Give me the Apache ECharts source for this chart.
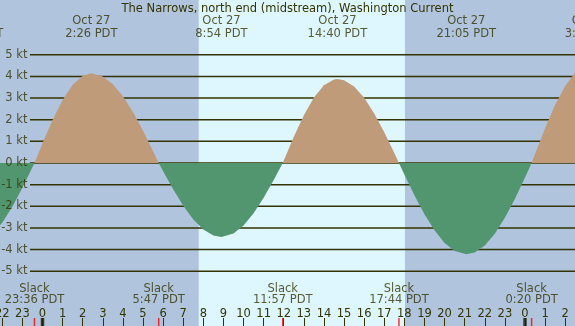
<!DOCTYPE html>
<html lang="en">
<head>
    <meta charset="UTF-8">
    <title>The Narrows current</title>
    <script type="text/javascript" src="https://cdn.jsdelivr.net/npm/echarts@6/dist/echarts.min.js"></script>
    <style>
        html, body { margin: 0; padding: 0; }
        #main { width: 575px; height: 326px; }
    </style>
</head>
<body>
<div id="main"></div>
<script type="text/javascript">
    // hours from midnight Oct 27 (PDT), current in knots
    var hours = [-2.5, -2, -1.5, -1, -0.4, 0, 0.5, 1, 1.5, 2, 2.43, 3, 3.5, 4, 4.5, 5, 5.5, 5.78,
        6, 6.5, 7, 7.5, 8, 8.5, 8.9, 9.5, 10, 10.5, 11, 11.5, 11.95, 12.5, 13, 13.5, 14, 14.5, 14.67,
        15, 15.5, 16, 16.5, 17, 17.5, 17.73, 18, 18.5, 19, 19.5, 20, 20.5, 21.08, 21.5, 22, 22.5,
        23, 23.5, 24, 24.33, 24.5, 25, 25.5, 26, 26.5, 27];
    var knots = [-3.30, -2.75, -2.02, -1.14, 0, 0.91, 1.99, 2.91, 3.61, 4.03, 4.15, 4.00, 3.64, 3.08, 2.35, 1.49, 0.54, 0,
        -0.38, -1.21, -1.97, -2.61, -3.07, -3.35, -3.42, -3.26, -2.89, -2.32, -1.61, -0.79, 0, 1.21, 2.21, 3.03, 3.59, 3.86, 3.88,
        3.82, 3.53, 3.01, 2.29, 1.42, 0.46, 0, -0.53, -1.49, -2.37, -3.11, -3.69, -4.06, -4.22, -4.13, -3.81, -3.27,
        -2.53, -1.65, -0.67, 0, 0.42, 1.61, 2.69, 3.56, 4.18, 4.47];

    // max flood / ebb events (top labels)
    var maxHours = [-3.43, 2.43, 8.90, 14.67, 21.08, 27.28];
    var maxDates = ['Oct 26', 'Oct 27', 'Oct 27', 'Oct 27', 'Oct 27', 'Oct 28'];
    var maxTimes = ['20:34', '2:26', '8:54', '14:40', '21:05', '3:17'];

    // slack water (bottom labels)
    var slackHours = [-0.40, 5.78, 11.95, 17.73, 24.33];
    var slackTimes = ['23:36', '5:47', '11:57', '17:44', '0:20'];

    var midnights = [0, 24];
    var sunrise = 7.77, sunset = 18.03;

    var ktLevels = [-5, -4, -3, -2, -1, 0, 1, 2, 3, 4, 5];
    var hourLabels = ['22', '23', '0', '1', '2', '3', '4', '5', '6', '7', '8', '9', '10', '11', '12',
        '13', '14', '15', '16', '17', '18', '19', '20', '21', '22', '23', '0', '1', '2'];

    var title = 'The Narrows, north end (midstream), Washington Current';

    var ink = '#333300';
    var floodColor = '#bf9b7a';
    var ebbColor = '#52966f';
    var font = 'DejaVu Sans';
    var fs = 11.5;
    var xMin = -2.114, xMax = 26.487;

    var myChart = echarts.init(document.getElementById('main'));

    var curve = [];
    for (var i = 0; i < hours.length; i++) curve.push([hours[i], knots[i]]);

    // split the curve into flood / ebb runs, each run ends on a slack zero
    var runs = [];
    var cur = [curve[0]];
    for (var i = 1; i < curve.length; i++) {
        cur.push(curve[i]);
        if (curve[i][1] === 0) {
            runs.push(cur);
            cur = [curve[i]];
        }
    }
    if (cur.length > 1) runs.push(cur);

    // whole fill drawn once, through the axis scale (api.coord)
    function renderFill(params, api) {
        if (params.dataIndex !== 0) return;
        var children = runs.map(function (run) {
            var pts = [api.coord([run[0][0], 0])];
            var sign = 0;
            run.forEach(function (p) {
                pts.push(api.coord(p));
                if (p[1] !== 0) sign = p[1];
            });
            pts.push(api.coord([run[run.length - 1][0], 0]));
            return {
                type: 'polygon',
                shape: {points: pts},
                style: {fill: sign > 0 ? floodColor : ebbColor, opacity: 1, stroke: null}
            };
        });
        return {type: 'group', children: children};
    }

    var tops = [];
    for (var i = 0; i < maxHours.length; i++) tops.push({value: [maxHours[i], 27.5], name: maxDates[i] + '\n' + maxTimes[i] + ' PDT'});
    var bottoms = [];
    for (var i = 0; i < slackHours.length; i++) bottoms.push({value: [slackHours[i], 295], name: 'Slack\n' + slackTimes[i] + ' PDT'});
    var slackTicks = slackHours.map(function (h) { return [h, 0.5]; });
    var midTicks = midnights.map(function (h) { return [h, 0.5]; });
    var ktMarks = ktLevels.map(function (v) { return {value: [0, v], name: v + ' kt'}; });

    // layers: 0 = daylight + kt lines, 1 = current fill, 2 = text and ticks
    var series = [
        {
            name: 'current', type: 'custom', coordinateSystem: 'cartesian2d',
            xAxisIndex: 0, yAxisIndex: 0, zlevel: 1, z: 10, silent: true,
            data: curve, encode: {x: 0, y: 1},
            renderItem: renderFill
        },
        {
            // kt labels left of the lines
            type: 'scatter', xAxisIndex: 1, yAxisIndex: 1, zlevel: 2, clip: false,
            data: ktMarks, symbolSize: 1, itemStyle: {color: 'transparent'},
            label: {
                show: true, position: 'left', distance: 2, formatter: '{b}', color: ink,
                fontFamily: font, fontSize: fs
            }
        },
        {
            type: 'scatter', xAxisIndex: 2, yAxisIndex: 2, zlevel: 2, clip: false,
            data: tops, symbolSize: 1, itemStyle: {color: 'transparent'},
            label: {
                show: true, position: 'inside', formatter: '{b}', color: ink,
                fontFamily: font, fontSize: fs, lineHeight: 12.5, align: 'center'
            },
            markArea: {
                silent: true, zlevel: 0, z: 0,
                itemStyle: {color: '#def7ff', opacity: 1},
                data: [[{xAxis: sunrise}, {xAxis: sunset}]]
            }
        },
        {
            type: 'scatter', xAxisIndex: 2, yAxisIndex: 2, zlevel: 2, clip: false,
            data: bottoms, symbolSize: 1, itemStyle: {color: 'transparent'},
            label: {
                show: true, position: 'inside', formatter: '{b}', color: ink,
                fontFamily: font, fontSize: fs, lineHeight: 11, align: 'center'
            }
        },
        {
            type: 'scatter', xAxisIndex: 3, yAxisIndex: 3, zlevel: 2, z: 5,
            data: midTicks, symbol: 'rect', symbolSize: [3.5, 8],
            itemStyle: {color: '#1a1a00'}
        },
        {
            type: 'scatter', xAxisIndex: 3, yAxisIndex: 3, zlevel: 2, z: 5,
            data: slackTicks, symbol: 'rect', symbolSize: [1.5, 8],
            itemStyle: {color: '#ff0000'}
        }
    ];
    // one line per kt level, spanning the kt grid
    ktLevels.forEach(function (v) {
        series.push({
            type: 'line', xAxisIndex: 1, yAxisIndex: 1, zlevel: 0, z: 2,
            silent: true, clip: false, symbol: 'none',
            data: [[0, v], [1, v]],
            lineStyle: {color: ink, width: 1.5}
        });
    });

    var option = {
        backgroundColor: '#b0c4de',
        animation: false,
        title: {
            text: title, left: 'center', top: 3, padding: 0, zlevel: 2,
            textStyle: {fontFamily: font, fontSize: fs, fontWeight: 'normal', color: ink}
        },
        grid: [
            {left: 0, right: 0, top: 54.75, bottom: 54.75, outerBoundsMode: 'none'},   // curve
            {left: 30, right: 0, top: 54.75, bottom: 54.75, outerBoundsMode: 'none'},  // kt lines
            {left: 0, right: 0, top: 0, bottom: 0, outerBoundsMode: 'none'},           // full canvas
            {left: 2.29, right: 9.8, top: 318, bottom: 0, outerBoundsMode: 'none'}     // hour ticks
        ],
        xAxis: [
            {gridIndex: 0, type: 'value', min: xMin, max: xMax, show: false},
            {gridIndex: 1, type: 'value', min: 0, max: 1, show: false},
            {gridIndex: 2, type: 'value', min: xMin, max: xMax, show: false},
            {
                gridIndex: 3, type: 'value', min: -2, max: 26, interval: 1, zlevel: 2,
                axisLine: {show: false},
                splitLine: {show: false},
                axisTick: {inside: true, length: 8, lineStyle: {color: ink, width: 1}},
                axisLabel: {
                    inside: true, margin: 6, color: ink, fontFamily: font, fontSize: fs,
                    showMinLabel: true, showMaxLabel: true, hideOverlap: false,
                    formatter: function (v) { return hourLabels[Math.round(v) + 2]; }
                }
            }
        ],
        yAxis: [
            {gridIndex: 0, type: 'value', min: -5, max: 5, show: false, splitLine: {show: false}},
            {gridIndex: 1, type: 'value', min: -5, max: 5, show: false, splitLine: {show: false}},
            {gridIndex: 2, type: 'value', min: 0, max: 326, inverse: true, show: false, splitLine: {show: false}},
            {gridIndex: 3, type: 'value', min: 0, max: 1, show: false, splitLine: {show: false}}
        ],
        series: series
    };
    myChart.setOption(option);
</script>
</body>
</html>
